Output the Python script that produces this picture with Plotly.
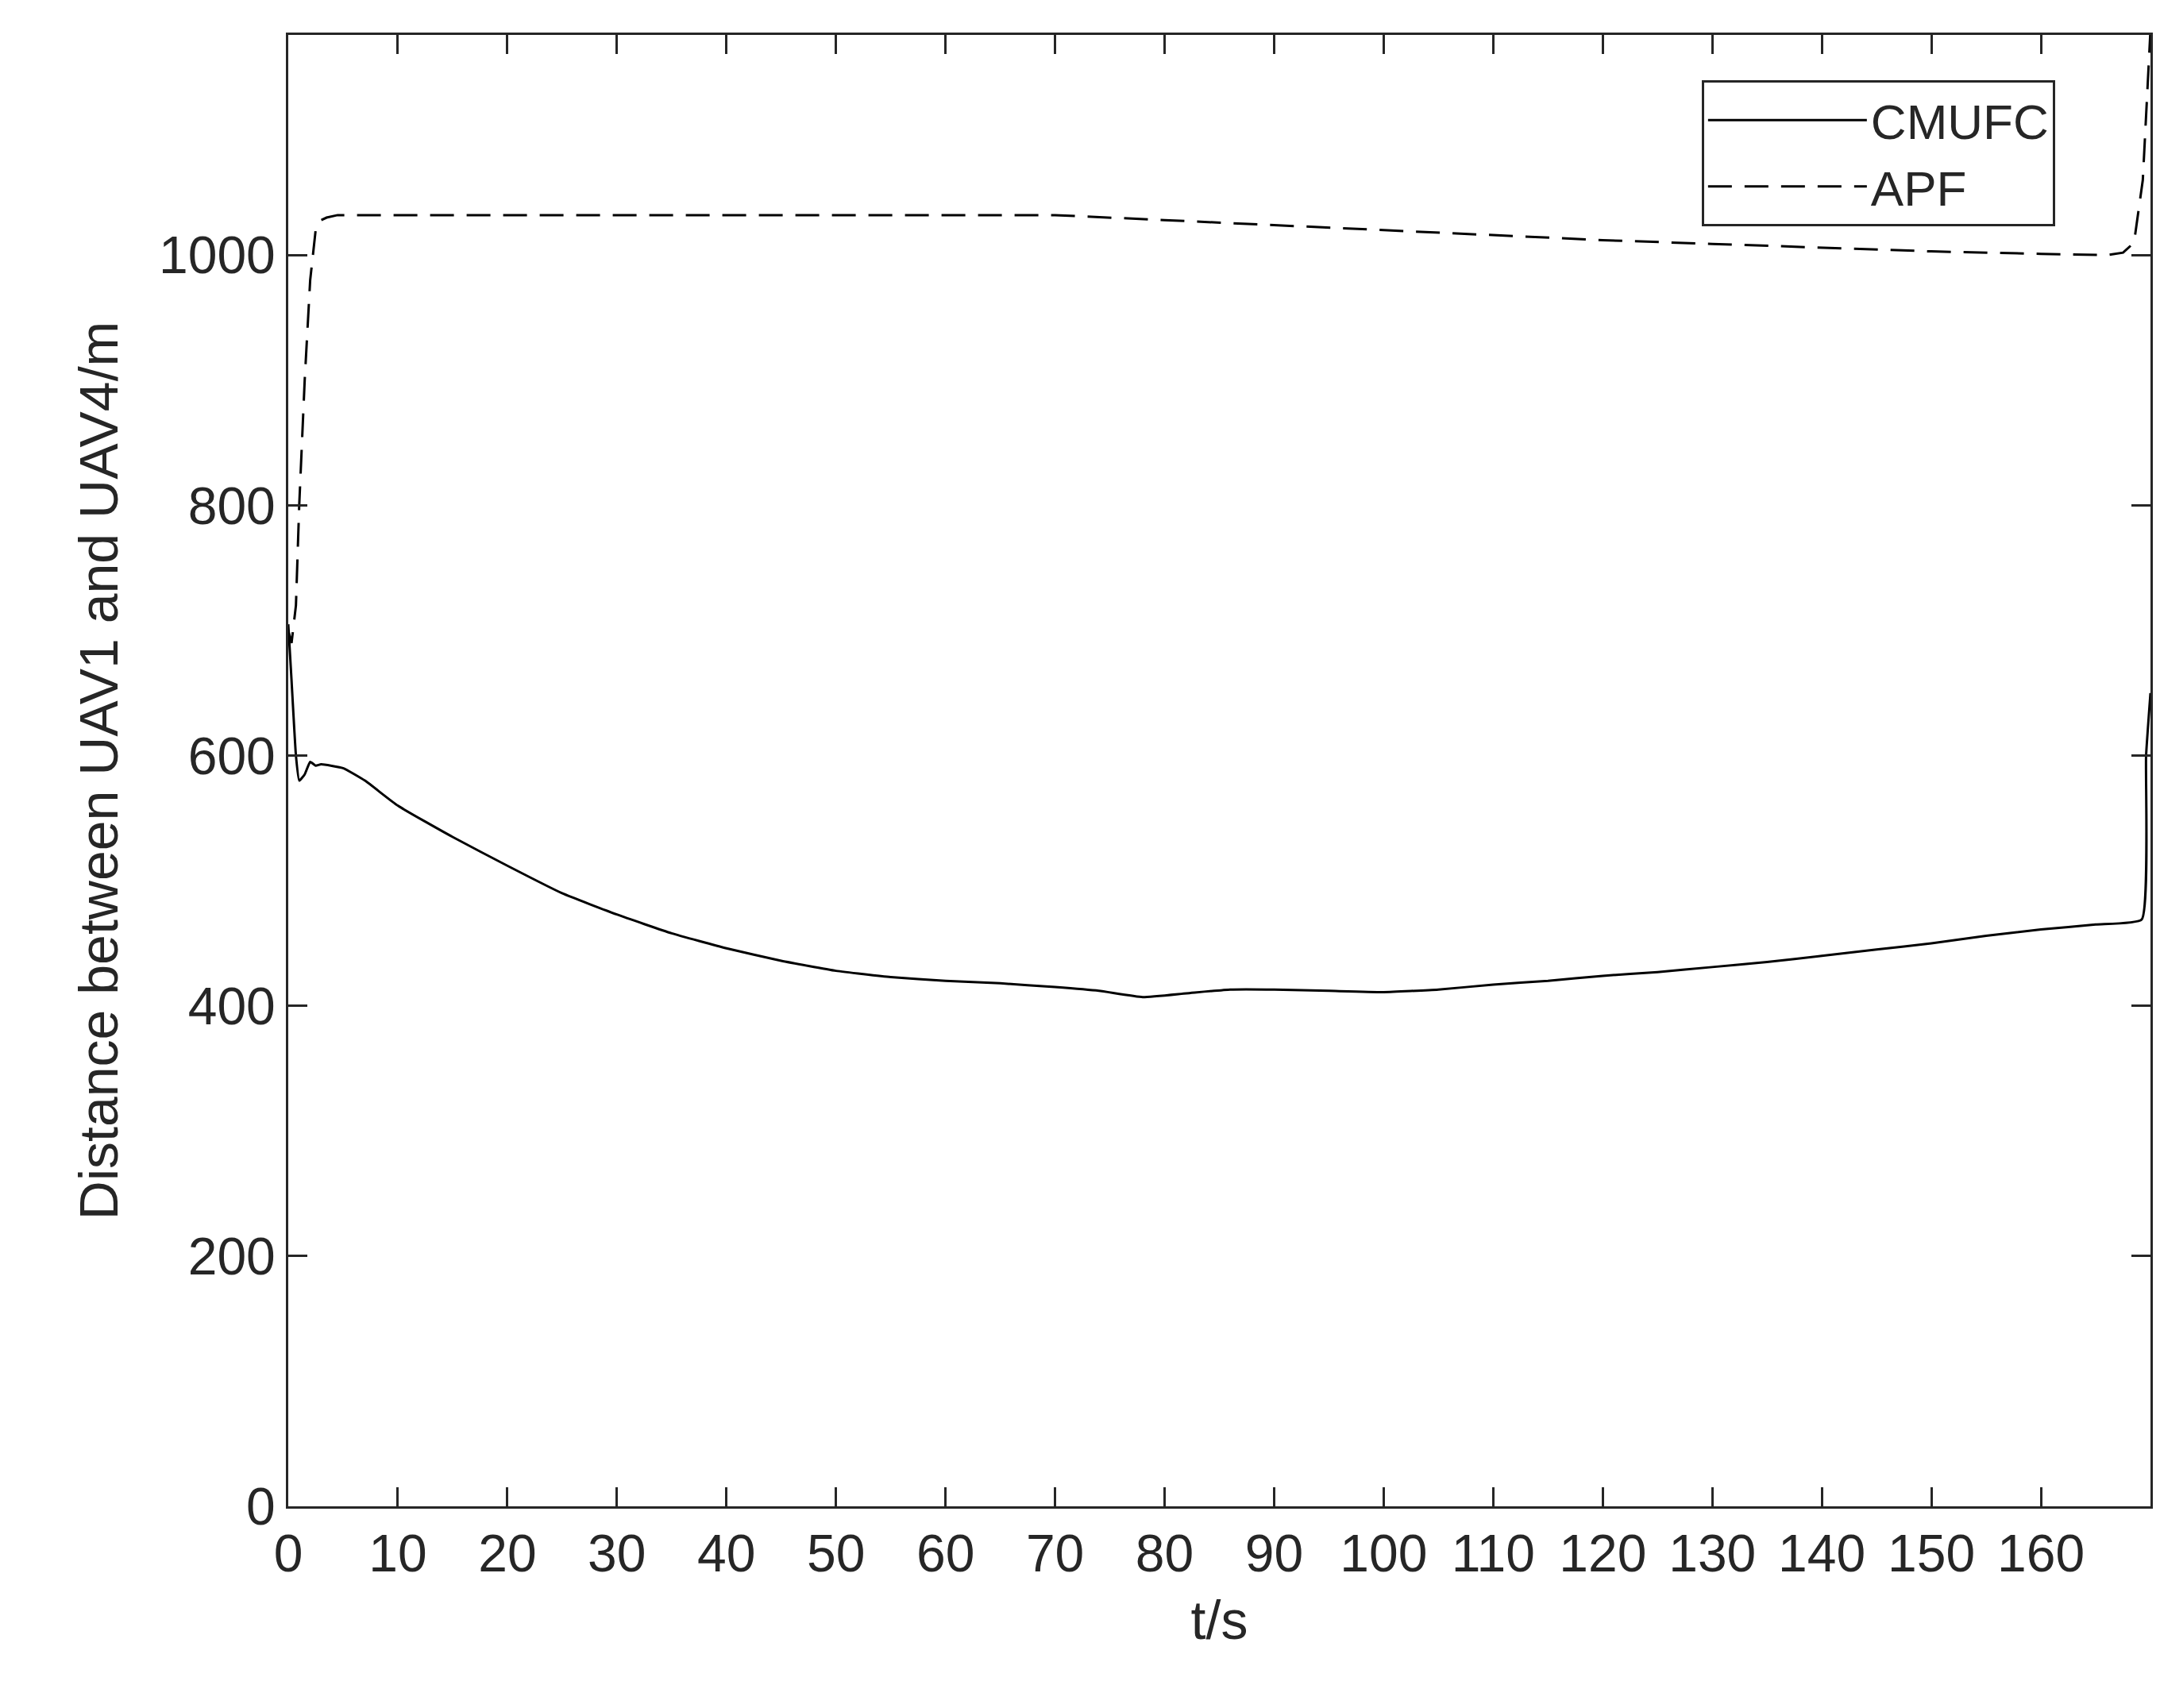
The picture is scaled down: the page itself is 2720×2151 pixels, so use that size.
import plotly.graph_objects as go

t_cm = [0, 0.3, 0.7, 1.0, 1.5, 2.0, 2.5, 3, 5, 7, 10, 15, 20, 25, 30, 35, 40, 45, 50, 55, 60, 65, 70, 74, 78, 82, 86, 90, 95, 100, 105, 110, 115, 120, 125, 130, 135, 140, 145, 150, 155, 160, 165, 169.2, 169.6, 170]
v_cm = [705, 660, 600, 580, 585, 595, 592, 593, 590, 580, 560, 535, 512, 490, 473, 458, 446, 436, 428, 423, 420, 418, 415, 412, 407, 410, 413, 413, 412, 411, 413, 417, 420, 424, 427, 431, 435, 440, 445, 450, 456, 461, 465, 469, 600, 650]
t_apf = [0, 0.3, 0.7, 1.0, 1.5, 2.0, 2.5, 3.0, 3.5, 4.5, 10, 30, 50, 70, 80, 90, 100, 110, 120, 130, 140, 150, 160, 166, 167.5, 168.5, 169.3, 170]
v_apf = [700, 690, 720, 800, 900, 980, 1020, 1028, 1030, 1032, 1032, 1032, 1032, 1032, 1028, 1024, 1020, 1016, 1012, 1009, 1006, 1003, 1001, 1000, 1002, 1010, 1060, 1180]

xticks = list(range(0, 161, 10))
yticks = [0, 200, 400, 600, 800, 1000]

FONT = "Liberation Sans"
fig = go.Figure()
fig.add_trace(go.Scatter(x=t_cm, y=v_cm, mode="lines", name="CMUFC",
                         line=dict(color="black", width=3, shape="spline", smoothing=0.4)))
fig.add_trace(go.Scatter(x=t_apf, y=v_apf, mode="lines", name="APF",
                         line=dict(color="black", width=3, dash="30px,16px")))

axis_common = dict(showgrid=False, zeroline=False, showline=True, linecolor="#262626", linewidth=3,
                   mirror="ticks", ticks="inside", ticklen=24, tickwidth=3, tickcolor="#262626",
                   tickfont=dict(size=66, color="#262626", family=FONT))
fig.update_xaxes(range=[0, 170], tickvals=xticks, ticktext=[str(v) for v in xticks],
                 title=dict(text="t/s", font=dict(size=68, color="#262626", family=FONT), standoff=25),
                 **axis_common)
fig.update_yaxes(range=[0, 1176], tickvals=yticks, ticktext=[str(v) for v in yticks],
                 title=dict(text="Distance between UAV1 and UAV4/m", font=dict(size=68, color="#262626", family=FONT), standoff=30),
                 **axis_common)
fig.update_layout(width=2720, height=2151, paper_bgcolor="white", plot_bgcolor="white",
                  margin=dict(l=355, r=20, t=36, b=262),
                  legend=dict(x=0.759, y=0.969, xanchor="left", yanchor="top",
                              bordercolor="#262626", borderwidth=3, bgcolor="white",
                              font=dict(size=62, color="#262626", family=FONT),
                              itemwidth=200, tracegroupgap=0),
                  showlegend=True)
fig.write_html("out.html")
